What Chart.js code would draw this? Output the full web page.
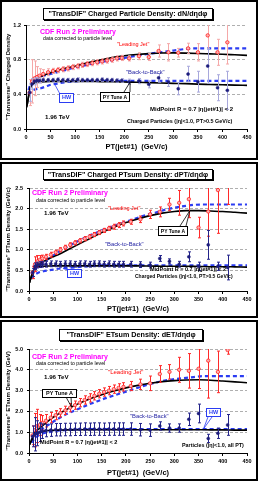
<!DOCTYPE html>
<html><head><meta charset="utf-8">
<script src="https://cdn.jsdelivr.net/npm/chart.js@4/dist/chart.umd.min.js"></script>
<style>
html,body{margin:0;padding:0;background:#fff;width:258px;height:482px;overflow:hidden;font-family:"Liberation Sans",Arial,sans-serif;}
.panel{position:absolute;left:0;width:258px;background:#fff;}
.panel canvas{position:absolute;left:0;top:0;}
.frame{position:absolute;left:0;top:0;right:0;bottom:0;border:2px solid #000;box-sizing:border-box;pointer-events:none;}
.lbl{position:absolute;white-space:nowrap;line-height:1;}
.box{position:absolute;box-sizing:border-box;background:#fff;display:flex;align-items:center;justify-content:center;white-space:nowrap;line-height:1;}
</style></head>
<body>
<div class="panel" id="p1" style="top:0;height:160px;"><canvas id="c1" width="258" height="160"></canvas><div class="frame"></div></div>
<div class="panel" id="p2" style="top:162px;height:156px;"><canvas id="c2" width="258" height="156"></canvas><div class="frame"></div></div>
<div class="panel" id="p3" style="top:320px;height:161px;"><canvas id="c3" width="258" height="161"></canvas><div class="frame"></div></div>
<script>
// ---------- DATA ----------
const ptBins = [7.5,12.5,17.5,22.5,27.5,35,45,55,65,75,85,95,105,115,125,135,145,155,165,175,185,195,210,230,250,270,290,310,330,350,370,390,410];
const hwPt = [5,10,15,20,30,40,50,60,80,100,120,140,160,180,200,220,240,260,280,300,320,340,360,380,400,420,450];
const pyPt = [1,3,5,7.5,10,15,20,30,40,50,60,80,100,125,150,175,200,225,250,275,300,325,350,375,400,425,450];
const xTickMin = 0, xTickMax = 450, xTickStep = 50;

// dN/dηdφ
const dnLeading    = [0.42,0.55,0.585,0.60,0.615,0.635,0.655,0.67,0.68,0.69,0.70,0.715,0.725,0.74,0.75,0.76,0.77,0.78,0.79,0.80,0.815,0.82,0.815,0.84,0.83,0.90,0.885,0.88,0.93,0.885,1.08,0.885,1.0];
const dnLeadingErr = [0.15,0.25,0.2,0.12,0.08,0.05,0.04,0.03,0.03,0.03,0.03,0.03,0.03,0.03,0.03,0.03,0.03,0.03,0.03,0.03,0.03,0.03,0.03,0.04,0.04,0.07,0.1,0.05,0.06,0.1,0.15,0.15,0.25];
const dnBack       = [0.42,0.52,0.55,0.56,0.56,0.565,0.565,0.565,0.57,0.565,0.565,0.565,0.57,0.565,0.565,0.565,0.565,0.57,0.565,0.565,0.56,0.56,0.545,0.553,0.515,0.59,0.542,0.465,0.634,0.546,0.727,0.476,0.446];
const dnBackErr    = [0.1,0.06,0.04,0.03,0.03,0.02,0.02,0.02,0.02,0.02,0.02,0.02,0.02,0.02,0.02,0.02,0.02,0.02,0.02,0.02,0.02,0.02,0.03,0.03,0.04,0.05,0.05,0.07,0.09,0.12,0.2,0.15,0.22];
const dnHwLeading  = [0.45,0.53,0.57,0.59,0.61,0.62,0.635,0.65,0.68,0.71,0.735,0.76,0.78,0.80,0.82,0.84,0.86,0.875,0.89,0.905,0.92,0.93,0.93,0.93,0.93,0.93,0.93];
const dnHwBack     = [0.40,0.44,0.45,0.46,0.47,0.49,0.51,0.52,0.54,0.55,0.555,0.555,0.555,0.555,0.555,0.555,0.555,0.555,0.555,0.555,0.555,0.555,0.555,0.555,0.555,0.555,0.555];
const dnPyLeading  = [0.25,0.3,0.37,0.45,0.51,0.56,0.58,0.605,0.63,0.65,0.67,0.70,0.725,0.765,0.795,0.825,0.845,0.86,0.87,0.877,0.878,0.876,0.872,0.867,0.862,0.856,0.85];
const dnPyBack     = [0.25,0.3,0.37,0.44,0.49,0.525,0.535,0.543,0.547,0.549,0.55,0.55,0.55,0.549,0.547,0.545,0.542,0.539,0.535,0.531,0.527,0.523,0.518,0.514,0.51,0.506,0.503];

// dPT/dηdφ
const dptLeading    = [0.45,0.65,0.72,0.76,0.79,0.83,0.88,0.94,1.0,1.06,1.12,1.17,1.22,1.27,1.32,1.37,1.42,1.47,1.52,1.56,1.6,1.64,1.68,1.74,1.86,1.92,2.1,2.14,2.23,1.54,1.93,2.45,2.8];
const dptLeadingErr = [0.15,0.18,0.14,0.1,0.08,0.06,0.06,0.05,0.05,0.05,0.05,0.05,0.05,0.05,0.05,0.05,0.05,0.05,0.05,0.06,0.06,0.06,0.06,0.08,0.1,0.12,0.15,0.3,0.45,0.25,0.6,1.05,0.7];
const dptBack       = [0.45,0.6,0.63,0.64,0.65,0.65,0.66,0.66,0.65,0.66,0.66,0.65,0.66,0.66,0.65,0.66,0.66,0.65,0.66,0.65,0.65,0.65,0.65,0.64,0.63,0.79,0.72,0.65,0.83,0.6,1.12,0.6,0.57];
const dptBackErr    = [0.1,0.08,0.07,0.07,0.07,0.07,0.07,0.07,0.07,0.07,0.07,0.07,0.07,0.07,0.07,0.07,0.07,0.07,0.07,0.07,0.07,0.07,0.07,0.07,0.07,0.07,0.06,0.07,0.12,0.1,0.35,0.1,0.3];
const dptHwLeading  = [0.4,0.5,0.56,0.62,0.7,0.78,0.86,0.94,1.08,1.2,1.32,1.42,1.52,1.6,1.68,1.76,1.84,1.9,1.97,2.02,2.06,2.09,2.1,2.1,2.1,2.1,2.1];
const dptHwBack     = [0.3,0.38,0.42,0.45,0.48,0.5,0.52,0.54,0.56,0.58,0.6,0.62,0.62,0.62,0.62,0.62,0.62,0.62,0.62,0.62,0.62,0.62,0.62,0.62,0.62,0.62,0.62];
const dptPyLeading  = [0.2,0.28,0.36,0.45,0.52,0.6,0.65,0.72,0.78,0.83,0.88,1.0,1.12,1.27,1.42,1.55,1.66,1.75,1.83,1.89,1.93,1.95,1.95,1.94,1.93,1.91,1.89];
const dptPyBack     = [0.2,0.28,0.36,0.45,0.52,0.57,0.59,0.6,0.605,0.61,0.61,0.61,0.61,0.61,0.61,0.61,0.61,0.61,0.605,0.6,0.6,0.6,0.595,0.59,0.59,0.585,0.58];

// dET/dηdφ
const detLeading    = [0.85,1.1,1.3,1.35,1.45,1.55,1.7,1.82,1.93,2.05,2.18,2.3,2.42,2.55,2.65,2.75,2.85,2.93,3.0,3.07,3.13,3.18,3.22,3.3,3.35,3.8,3.9,4.0,3.95,4.05,4.44,3.9,4.95];
const detLeadingErr = [0.45,0.8,0.8,0.5,0.35,0.3,0.25,0.22,0.2,0.2,0.2,0.2,0.2,0.2,0.2,0.2,0.2,0.2,0.2,0.2,0.2,0.2,0.22,0.25,0.35,0.4,0.35,0.6,0.83,0.95,1.8,1.0,0.2];
const detBack       = [0.8,0.9,0.95,1.0,1.05,1.08,1.1,1.12,1.12,1.13,1.13,1.14,1.14,1.15,1.14,1.15,1.15,1.14,1.15,1.15,1.15,1.15,1.15,1.12,1.1,1.3,1.2,1.2,1.62,1.9,0.7,0.95,1.35];
const detBackErr    = [0.5,0.8,0.6,0.45,0.35,0.3,0.3,0.3,0.3,0.3,0.3,0.3,0.3,0.3,0.3,0.3,0.3,0.3,0.3,0.3,0.3,0.3,0.3,0.3,0.3,0.2,0.2,0.2,0.3,0.45,0.2,0.25,0.5];
const detHwLeading  = [0.6,0.8,0.95,1.05,1.2,1.35,1.5,1.65,1.9,2.1,2.3,2.48,2.65,2.8,2.95,3.1,3.25,3.38,3.48,3.55,3.6,3.65,3.7,3.7,3.7,3.7,3.7];
const detHwBack     = [0.5,0.65,0.75,0.85,0.95,1.0,1.05,1.08,1.1,1.13,1.15,1.15,1.15,1.15,1.15,1.15,1.15,1.15,1.15,1.15,1.15,1.15,1.15,1.15,1.15,1.15,1.15];
const detPyLeading  = [0.4,0.5,0.6,0.75,0.9,1.05,1.15,1.35,1.55,1.72,1.87,2.12,2.35,2.6,2.8,2.98,3.13,3.25,3.35,3.43,3.48,3.51,3.52,3.5,3.46,3.42,3.38];
const detPyBack     = [0.4,0.5,0.6,0.72,0.82,0.93,1.0,1.05,1.08,1.09,1.1,1.11,1.12,1.12,1.12,1.12,1.12,1.12,1.12,1.12,1.12,1.12,1.12,1.11,1.11,1.1,1.1];

// ---------- HELPERS ----------
const FONT = '"Liberation Sans", Arial, sans-serif';
Chart.defaults.font.family = FONT;
const pts = (xs, ys) => xs.map((x, i) => ({x, y: ys[i]}));

const errorBarPlugin = {
  id: 'errbars',
  beforeDatasetDraw(chart, args) {
    const ds = chart.data.datasets[args.index];
    if (!ds.errors) return;
    const xs = chart.scales.x, ys = chart.scales.y, ctx = chart.ctx, a = chart.chartArea;
    ctx.save();
    ctx.beginPath(); ctx.rect(a.left, a.top, a.right - a.left, a.bottom - a.top); ctx.clip();
    ctx.strokeStyle = ds.errorColor; ctx.lineWidth = 1;
    ds.data.forEach((p, i) => {
      const e = ds.errors[i];
      const x = Math.round(xs.getPixelForValue(p.x)) + 0.5;
      const y1 = ys.getPixelForValue(p.y - e), y2 = ys.getPixelForValue(p.y + e);
      ctx.beginPath();
      ctx.moveTo(x, y1); ctx.lineTo(x, y2);
      ctx.moveTo(x - 1.5, y1); ctx.lineTo(x + 1.5, y1);
      ctx.moveTo(x - 1.5, y2); ctx.lineTo(x + 1.5, y2);
      ctx.stroke();
    });
    ctx.restore();
  }
};
const calloutPlugin = {
  id: 'callouts',
  afterDatasetsDraw(chart, args, opts) {
    const ctx = chart.ctx;
    (opts.items || []).forEach(it => {
      const tx = chart.scales.x.getPixelForValue(it.x), ty = chart.scales.y.getPixelForValue(it.y);
      ctx.save(); ctx.strokeStyle = it.color; ctx.lineWidth = 0.8;
      ctx.beginPath();
      it.from.forEach(([fx, fy]) => { ctx.moveTo(fx, fy); ctx.lineTo(tx, ty); });
      ctx.stroke(); ctx.restore();
    });
  }
};

function makeChart(id, c) {
  const tickFont = {size: 5.5, weight: 'bold', family: FONT};
  return new Chart(document.getElementById(id), {
    type: 'line',
    data: { datasets: [
      { label: 'Back-to-Back', data: pts(ptBins, c.back), errors: c.backErr, errorColor: c.backErrColor,
        showLine: false, pointRadius: 1.5, pointBackgroundColor: '#1c1c7c', pointBorderColor: '#1c1c7c', pointBorderWidth: 0.5 },
      { label: 'Leading Jet', data: pts(ptBins, c.lead), errors: c.leadErr, errorColor: c.leadErrColor,
        showLine: false, pointRadius: 1.7, pointBackgroundColor: '#ffb0b0', pointBorderColor: '#ff2020', pointBorderWidth: 0.8 },
      { label: 'PY Tune A leading', data: pts(pyPt, c.pyLead), borderColor: '#000', borderWidth: 1.6, pointRadius: 0, cubicInterpolationMode: 'monotone' },
      { label: 'PY Tune A back', data: pts(pyPt, c.pyBack), borderColor: '#000', borderWidth: 1.6, pointRadius: 0, cubicInterpolationMode: 'monotone' },
      { label: 'HW leading', data: pts(hwPt, c.hwLead), borderColor: '#2b3cf2', borderWidth: 2.2, borderDash: [4, 3], pointRadius: 0, cubicInterpolationMode: 'monotone' },
      { label: 'HW back', data: pts(hwPt, c.hwBack), borderColor: '#2b3cf2', borderWidth: 2.2, borderDash: [4, 3], pointRadius: 0, cubicInterpolationMode: 'monotone' }
    ]},
    options: {
      responsive: false, animation: false, devicePixelRatio: 1,
      layout: { padding: { left: 0, right: 11, top: c.top, bottom: c.padBottom } },
      plugins: { legend: {display: false}, tooltip: {enabled: false}, callouts: { items: c.callouts } },
      scales: {
        x: {
          type: 'linear', min: xTickMin, max: xTickMax,
          ticks: { stepSize: xTickStep, font: tickFont, color: '#000', padding: 2, maxRotation: 0, autoSkip: false },
          grid: { drawOnChartArea: false, tickLength: 3, tickColor: '#000', tickWidth: 1 },
          border: { color: '#000', width: 1 },
          title: { display: true, text: 'PT(jet#1)  (GeV/c)', color: '#000', font: {size: 7.5, weight: 'bold', family: FONT}, padding: {top: 0, bottom: c.xTitlePad} },
          afterFit(s) { s.height = 26; }
        },
        y: {
          min: 0, max: c.ymax,
          ticks: { stepSize: c.ystep, font: tickFont, color: '#000', padding: c.yPad, callback: v => Number(v).toFixed(1) },
          grid: { color: ctx => (ctx.tick && ctx.tick.value === 0) ? 'rgba(0,0,0,0)' : '#9a9a9a', lineWidth: 0.8,
                  tickLength: 2, tickColor: '#000', tickWidth: 1, tickBorderDash: [] },
          border: { color: '#000', width: 1, dash: [3, 2] },
          title: { display: true, text: c.ytitle, color: '#000', font: {size: 6, weight: 'bold', family: FONT}, padding: {top: 4.4, bottom: 0} },
          afterFit(s) { s.width = c.yw; }
        }
      }
    },
    plugins: [errorBarPlugin, calloutPlugin]
  });
}

function label(pid, text, left, cy, size, color, weight) {
  const d = document.createElement('div');
  d.className = 'lbl'; d.textContent = text;
  d.style.left = left + 'px'; d.style.top = (cy - 0.52 * size) + 'px';
  d.style.fontSize = size + 'px'; d.style.color = color; d.style.fontWeight = weight || 'normal';
  document.getElementById(pid).insertBefore(d, document.querySelector('#' + pid + ' .frame'));
}
function box(pid, text, left, top, w, h, size, color, border, weight, shadow) {
  const d = document.createElement('div');
  d.className = 'box'; d.textContent = text;
  Object.assign(d.style, { left: left + 'px', top: top + 'px', width: w + 'px', height: h + 'px',
    fontSize: size + 'px', color: color, border: '1px solid ' + border, fontWeight: weight || 'normal',
    boxShadow: shadow ? '1px 1px 0 #000' : 'none' });
  document.getElementById(pid).insertBefore(d, document.querySelector('#' + pid + ' .frame'));
}

// ---------- CHARTS ----------
makeChart('c1', { lead: dnLeading, leadErr: dnLeadingErr, back: dnBack, backErr: dnBackErr,
  hwLead: dnHwLeading, hwBack: dnHwBack, pyLead: dnPyLeading, pyBack: dnPyBack,
  leadErrColor: '#f5a8a8', backErrColor: '#a8a8dc',
  ymax: 1.2, ystep: 0.4, yw: 26, yPad: 3, top: 25, padBottom: 5, xTitlePad: 3.5,
  ytitle: '"Transverse" Charged Density',
  callouts: [ {from: [[60, 94]], x: 58, y: 0.52, color: '#2b3cf2'},
              {from: [[124, 92], [130, 92]], x: 212, y: 0.542, color: '#000'} ] });
makeChart('c2', { lead: dptLeading, leadErr: dptLeadingErr, back: dptBack, backErr: dptBackErr,
  hwLead: dptHwLeading, hwBack: dptHwBack, pyLead: dptPyLeading, pyBack: dptPyBack,
  leadErrColor: '#ff2a2a', backErrColor: '#23238a',
  ymax: 2.5, ystep: 0.5, yw: 29, yPad: 4, top: 26, padBottom: 1, xTitlePad: 3.5,
  ytitle: '"Transverse" PTsum Density (GeV/c)',
  callouts: [ {from: [[180, 64], [186, 64]], x: 332, y: 1.95, color: '#000'},
              {from: [[68, 108]], x: 70, y: 0.55, color: '#2b3cf2'} ] });
makeChart('c3', { lead: detLeading, leadErr: detLeadingErr, back: detBack, backErr: detBackErr,
  hwLead: detHwLeading, hwBack: detHwBack, pyLead: detPyLeading, pyBack: detPyBack,
  leadErrColor: '#ff2a2a', backErrColor: '#23238a',
  ymax: 5, ystep: 1, yw: 29, yPad: 4, top: 29, padBottom: 2, xTitlePad: 1.5,
  ytitle: '"Transverse" ETsum Density (GeV)',
  callouts: [ {from: [[66, 77], [71, 77]], x: 88, y: 2.2, color: '#000'},
              {from: [[208, 97], [212, 97]], x: 360, y: 1.15, color: '#2b3cf2'} ] });

// ---------- TEXT ----------
// Panel 1
box('p1', '"TransDIF" Charged Particle Density: dN/dηdφ', 43, 8, 170, 12, 7.2, '#000', '#000', 'bold', true);
label('p1', 'CDF Run 2 Preliminary', 40, 32, 7, '#ff00ff', 'bold');
label('p1', 'data corrected to particle level', 43, 39, 5.2, '#000');
label('p1', '"Leading Jet"', 117, 45, 5.5, '#ff0000');
label('p1', '"Back-to-Back"', 126, 73, 5.8, '#1c1ca0');
box('p1', 'HW', 59, 93, 15, 10, 5.5, '#2b3cf2', '#2b3cf2', 'bold');
box('p1', 'PY Tune A', 100, 92, 30, 10, 5, '#000', '#000', 'bold');
label('p1', 'MidPoint R = 0.7 |η(jet#1)| < 2', 150, 109, 6, '#000', 'bold');
label('p1', '1.96 TeV', 45, 117, 6.2, '#000', 'bold');
label('p1', 'Charged Particles (|η|<1.0, PT>0.5 GeV/c)', 127, 122, 5.4, '#000', 'bold');
// Panel 2
box('p2', '"TransDIF" Charged PTsum Density: dPT/dηdφ', 43, 7, 170, 11, 7.2, '#000', '#000', 'bold', true);
label('p2', 'CDF Run 2 Preliminary', 32, 31, 7, '#ff00ff', 'bold');
label('p2', 'data corrected to particle level', 36, 39, 5.2, '#000');
label('p2', '1.96 TeV', 44, 51, 6.2, '#000', 'bold');
label('p2', '"Leading Jet"', 108, 47, 5.5, '#ff0000');
box('p2', 'PY Tune A', 158, 64, 30, 10, 5, '#000', '#000', 'bold');
label('p2', '"Back-to-Back"', 105, 83, 5.8, '#1c1ca0');
box('p2', 'HW', 67, 107, 15, 9, 5.5, '#2b3cf2', '#2b3cf2', 'bold');
label('p2', 'MidPoint R = 0.7 |η(jet#1)| < 2', 150, 108, 5.5, '#000', 'bold');
label('p2', 'Charged Particles (|η|<1.0, PT>0.5 GeV/c)', 135, 115, 5, '#000', 'bold');
// Panel 3
box('p3', '"TransDIF" ETsum Density: dET/dηdφ', 59, 9, 144, 12, 7.2, '#000', '#000', 'bold', true);
label('p3', 'CDF Run 2 Preliminary', 32, 37, 7, '#ff00ff', 'bold');
label('p3', 'data corrected to particle level', 36, 44, 5.2, '#000');
label('p3', '1.96 TeV', 44, 57, 6.2, '#000', 'bold');
label('p3', '"Leading Jet"', 108, 52, 6, '#ff0000');
box('p3', 'PY Tune A', 42, 69, 35, 9, 5.5, '#000', '#000', 'bold');
label('p3', '"Back-to-Back"', 130, 97, 5.8, '#1c1ca0');
box('p3', 'HW', 206, 88, 15, 9, 5.5, '#2b3cf2', '#2b3cf2', 'bold');
label('p3', 'MidPoint R = 0.7 |η(jet#1)| < 2', 40, 123, 5.6, '#000', 'bold');
label('p3', 'Particles (|η|<1.0, all PT)', 182, 126, 5.4, '#000', 'bold');
</script>
</body></html>
